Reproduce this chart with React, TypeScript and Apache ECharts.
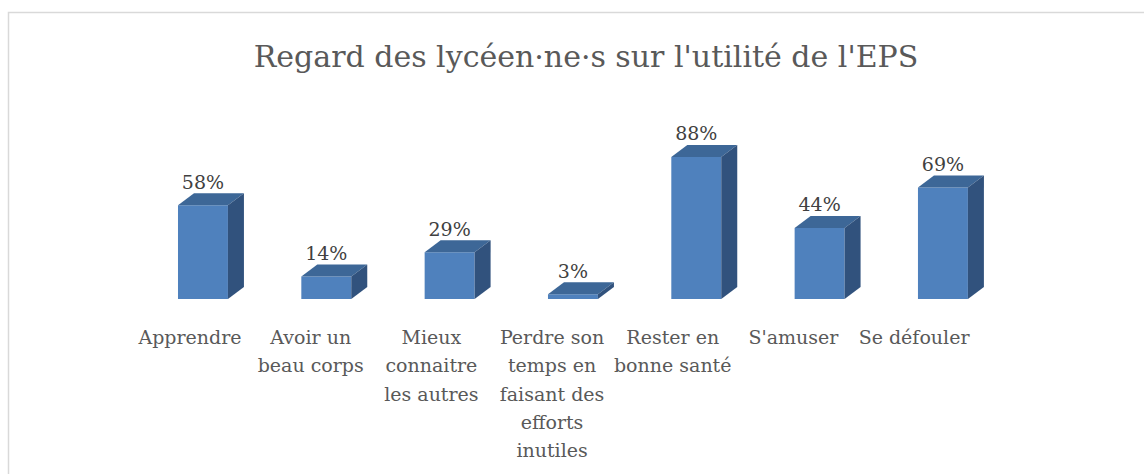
import React, { useEffect, useRef } from "react";
import * as echarts from "echarts";

const categories = [
  "Apprendre",
  "Avoir un\nbeau corps",
  "Mieux\nconnaitre\nles autres",
  "Perdre son\ntemps en\nfaisant des\nefforts\ninutiles",
  "Rester en\nbonne santé",
  "S'amuser",
  "Se défouler",
];
const values = [58, 14, 29, 3, 88, 44, 69];
const titleText = "Regard des lycéen·ne·s sur l'utilité de l'EPS";

const FRONT = "#4F81BD";
const TOP = "#3D6797";
const SIDE = "#31527D";
const FONT = "DejaVu Serif";

export default function App() {
  const ref = useRef<HTMLDivElement>(null);
  useEffect(() => {
    const chart = echarts.init(ref.current!, null, { renderer: "svg" });
    const DX = 16;
    const DY = 12;
    const option: any = {
      animation: false,
      backgroundColor: "#ffffff",
      title: {
        text: titleText,
        left: 581,
        top: 36,
        textAlign: "center",
        textStyle: { fontFamily: FONT, fontSize: 30, fontWeight: "normal", color: "#595959" },
      },
      graphic: [
        {
          type: "polyline",
          shape: { points: [[8.5, 500], [8.5, 12.5], [1200, 12.5]] },
          style: { stroke: "#d9d9d9", lineWidth: 1.5, fill: "none" },
        },
      ],
      grid: [
        { left: 141.3, width: 863.3, top: 137.5, height: 161.5 },
        { left: 129.7, width: 844.7, top: 137.5, height: 161.5 },
      ],
      xAxis: [
        {
          type: "category",
          data: categories,
          gridIndex: 0,
          axisLine: { show: false },
          axisTick: { show: false },
          axisLabel: { show: false },
        },
        {
          type: "category",
          data: categories,
          gridIndex: 1,
          axisLine: { show: false },
          axisTick: { show: false },
          axisLabel: {
            interval: 0,
            margin: 24,
            fontFamily: FONT,
            fontSize: 19,
            lineHeight: 28.3,
            color: "#595959",
            align: "center",
          },
        },
      ],
      yAxis: [
        { type: "value", min: 0, max: 100, gridIndex: 0, show: false, splitLine: { show: false } },
        { type: "value", min: 0, max: 100, gridIndex: 1, show: false, splitLine: { show: false } },
      ],
      series: [
        {
          type: "custom",
          xAxisIndex: 0,
          yAxisIndex: 0,
          data: values.map((v, i) => [i, v]),
          renderItem: (params: any, api: any) => {
            const i = api.value(0);
            const v = api.value(1);
            const top = api.coord([i, v]);
            const base = api.coord([i, 0]);
            const band = api.size([1, 0])[0];
            const hw = (band * 0.405) / 2;
            const cx = top[0];
            const yt = top[1];
            const yb = base[1];
            return {
              type: "group",
              children: [
                {
                  type: "rect",
                  shape: { x: cx - hw, y: yt, width: hw * 2, height: yb - yt },
                  style: { fill: FRONT },
                },
                {
                  type: "polygon",
                  shape: {
                    points: [
                      [cx - hw, yt],
                      [cx + hw, yt],
                      [cx + hw + DX, yt - DY],
                      [cx - hw + DX, yt - DY],
                    ],
                  },
                  style: { fill: TOP },
                },
                {
                  type: "polygon",
                  shape: {
                    points: [
                      [cx + hw, yt],
                      [cx + hw + DX, yt - DY],
                      [cx + hw + DX, yb - DY],
                      [cx + hw, yb],
                    ],
                  },
                  style: { fill: SIDE },
                },
                {
                  type: "text",
                  x: cx,
                  y: yt - DY - 2,
                  style: {
                    text: v + "%",
                    fontFamily: FONT,
                    fontSize: 19,
                    fill: "#404040",
                    align: "center",
                    verticalAlign: "bottom",
                  },
                },
              ],
            };
          },
        },
      ],
    };
    chart.setOption(option);
    return () => chart.dispose();
  }, []);
  return (
    <div
      ref={ref}
      style={{ position: "fixed", left: 0, top: 0, width: 1144, height: 474 }}
    />
  );
}
